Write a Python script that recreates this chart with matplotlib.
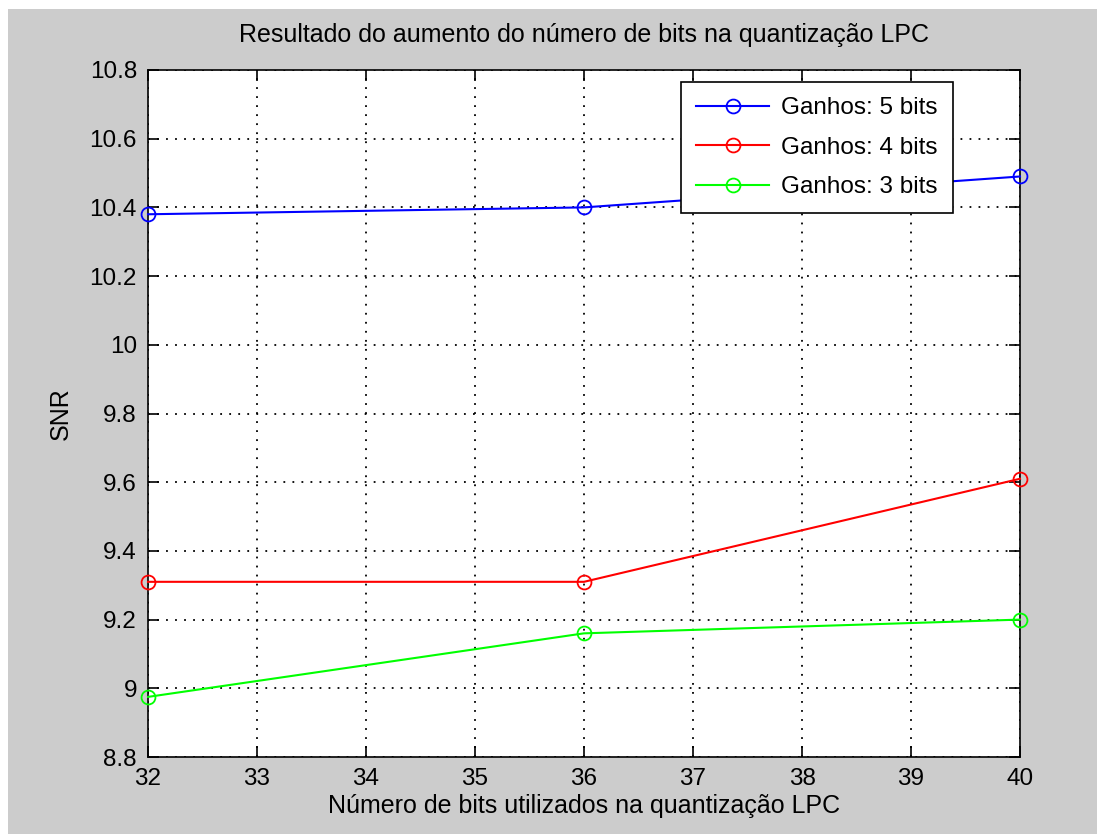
import matplotlib
matplotlib.use("Agg")
import matplotlib.pyplot as plt
from matplotlib.patches import Rectangle

# Number of LPC quantization bits and resulting SNR for each gain resolution
lpc_bits = [32, 36, 40]
snr_gain5 = [10.38, 10.40, 10.49]
snr_gain4 = [9.31, 9.31, 9.61]
snr_gain3 = [8.975, 9.16, 9.20]
series_labels = ["Ganhos: 5 bits", "Ganhos: 4 bits", "Ganhos: 3 bits"]
x_ticks = list(range(32, 41))
y_ticks = [8.8, 9.0, 9.2, 9.4, 9.6, 9.8, 10.0, 10.2, 10.4, 10.6, 10.8]
y_ticklabels = ["8.8", "9", "9.2", "9.4", "9.6", "9.8", "10", "10.2", "10.4", "10.6", "10.8"]

plt.rcParams["font.family"] = ["Liberation Sans", "DejaVu Sans"]

fig = plt.figure(figsize=(10.99, 8.34), dpi=100, facecolor="white")
# grey window background
fig.patches.append(Rectangle((8 / 1099, 0), 1089 / 1099, 825 / 834,
                             transform=fig.transFigure, facecolor="#cccccc",
                             edgecolor="none", zorder=-10))

ax = fig.add_axes([148 / 1099, 77 / 834, 872 / 1099, 687 / 834])
ax.set_facecolor("white")

for ys, col, lab in zip([snr_gain5, snr_gain4, snr_gain3],
                        ["#0000ff", "#ff0000", "#00ff00"], series_labels):
    ax.plot(lpc_bits, ys, color=col, lw=1.5, marker="o", markersize=10,
            markerfacecolor="none", markeredgecolor=col, markeredgewidth=1.3,
            label=lab, clip_on=False, zorder=3)

ax.set_xlim(32, 40)
ax.set_ylim(8.8, 10.8)
ax.set_xticks(x_ticks)
ax.set_yticks(y_ticks)
ax.set_yticklabels(y_ticklabels)
ax.grid(True, color="black", linestyle=(0, (1, 4)), linewidth=1.3)
ax.tick_params(direction="in", length=8, width=1.2, top=True, right=True,
               labelsize=17.5, pad=8, colors="black")
for s in ax.spines.values():
    s.set_linewidth(1.2)
    s.set_color("black")

ax.set_title("Resultado do aumento do número de bits na quantização LPC",
             fontsize=18, pad=20)
ax.set_xlabel("Número de bits utilizados na quantização LPC", fontsize=18, labelpad=3)
ax.set_ylabel("SNR", fontsize=18, labelpad=12)

leg = ax.legend(loc="upper right", bbox_to_anchor=(953 / 1099, 752 / 834),
                bbox_transform=fig.transFigure, borderaxespad=0, fontsize=17.5,
                frameon=True, fancybox=False, framealpha=1, edgecolor="black",
                handlelength=3.0, borderpad=0.62, labelspacing=0.72,
                handletextpad=0.5, markerscale=1.0)
leg.get_frame().set_linewidth(1.2)

fig.savefig("out.png", dpi=100, facecolor=fig.get_facecolor())
